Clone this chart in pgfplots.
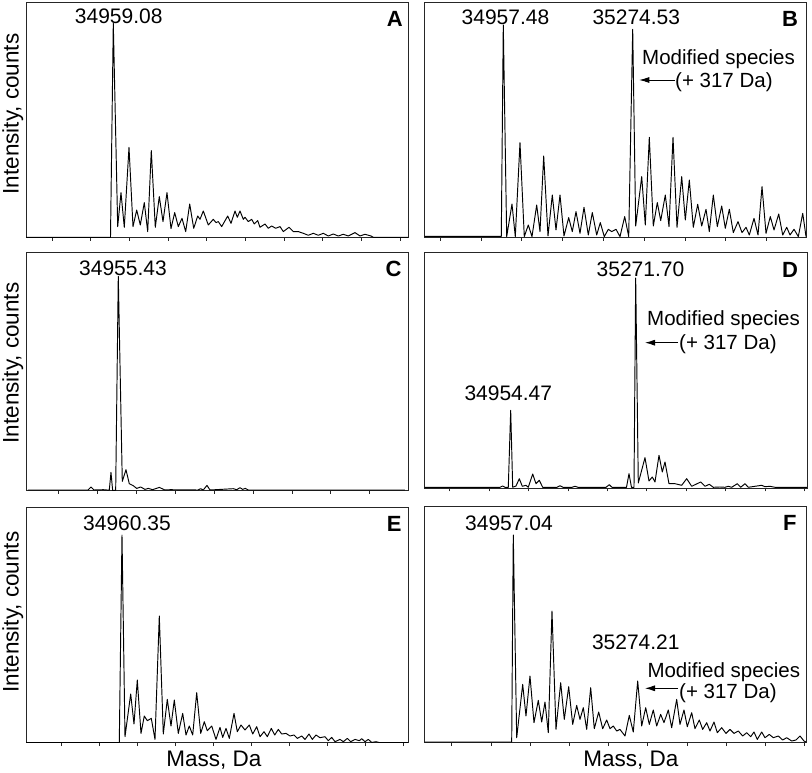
\documentclass[border=0pt]{standalone}
\usepackage{pgfplots}
\pgfplotsset{compat=1.18}
\usepackage{pgfplotstable}
\usetikzlibrary{arrows.meta}
\usepackage{fontspec}
\setmainfont{Liberation Sans}

\pgfplotstableread{
px h
26 0
110.5 0
113.3 214
117.7 10.7
121 44.7
124.3 10
129 90
133 10.7
136.7 27.3
140.3 12.3
144.3 34.7
147.7 5.7
151.3 86.7
155.3 10
159.3 40.7
163 15.7
167 44.7
171 8.7
174.7 24.7
178.3 10.7
182 19
185.7 5.7
189.7 33.3
193.7 9
197.7 21.3
200 18
203.3 26.3
208.3 12.3
213.3 18
216 14.7
218.3 15.7
221.7 10.7
227.7 21.3
231 14
235 26.3
237.3 20
240 26.3
243.3 18
245 20
248.3 15.7
251.7 18
254.3 13.3
257.7 16.7
260 10
265 13.3
268.3 9
271.7 11.3
275.7 9
280 10.7
283.3 5.7
289 10
293.3 5.7
298.3 5.7
303.3 4
308.3 2
313.3 4
318.3 2
323.3 4
328.3 1.3
333.3 3.3
338.3 1.3
343.3 3
348.3 1.3
355 4.7
360 1.3
365 3
371 1.3
373.3 0
408 0
}\dataA

\pgfplotstableread{
px h
424.7 1
501.3 1
503.3 212.3
506.7 0.7
512 33.3
515.3 0.7
520 94.7
524.3 0.7
528.3 12.3
532 0.7
536.7 32.3
540 5.7
543.7 81.3
548 1.3
552.3 42.3
556 7.3
560 42.3
564 1.3
568.7 19.7
572.3 5.7
576 25.7
580 4
584 30
588.3 2.3
592.3 24.7
596.7 2.3
600.3 14.7
604.3 0.7
608.3 8
611.7 5.7
616 8
620 0.7
624.7 20.7
628.7 0.7
632.7 208
635.7 11.3
641.7 60.7
645.3 12.3
649.3 100
653.3 11.3
657.3 34.7
660.7 16.7
665.3 42.3
669 10.7
673 100
677 10
681.7 60.7
685.3 17.3
689.3 57.3
693.3 10
697.7 33
701.7 11.3
706 28
709.3 5.7
713.3 42.3
717.3 10.7
721.7 31.3
725.3 9
729.3 28
733.3 4.7
738 15.7
742 4.7
746 10
749.3 2.3
754 19
758 2.3
762 50.7
766 4
770.3 20.7
774 7.3
778.7 23.3
782.7 2.3
786.7 10
790 2.3
794 8
798.3 0.7
802.7 24
806 0.7
}\dataB

\pgfplotstableread{
px h
28 0.7
88 0.7
91 3.7
94 0.7
103.3 1
109.3 0.5
111 18.3
112.7 0
115.7 0.5
118.3 214.3
122.3 9.3
126 21
129.3 7
133.3 5
136.7 2.3
140.7 3.7
145 1.3
148.3 2.3
152.7 1
159.3 3.3
165 0.7
170 1
198 0.7
200.7 2
203.3 0.7
207 5.3
210 0.7
233.3 2
236.7 1
240 3
242.7 1.3
245.3 2.3
248.3 0.7
405 0.7
}\dataC

\pgfplotstableread{
px h
424.7 0.7
500 0.7
502.7 2
505 0.7
508.3 0.7
510.7 77.7
512.7 0.7
516 2
519.3 9.3
522.3 1.7
526 2.7
528.3 0.7
532.7 14
536 4.3
539.3 7.7
542.7 0.7
557 0.7
560 2.3
563 0.7
572 0.7
575 1.7
578 0.7
606 0.7
609.3 3.3
612 0.7
626.5 0.7
629 14.3
631.5 0.7
634 0.7
635.7 210
638.3 5
645 30.3
649 7
652.3 11
655 6
659 32.7
662.3 16
665 26
669 4.3
675 4.3
681.7 2.7
686.7 9.3
691.7 1.7
700.7 6
705 1.7
709.3 3.7
713.3 0.7
720 1
725 0.7
728.3 1.7
731.7 0.7
737.3 4.3
740.7 0.7
745 4.3
748.3 0.7
755 1.7
761.7 2.7
765 1.3
770 1.7
775 0.7
807 0.7
}\dataD

\pgfplotstableread{
px h
26 0
119.3 0
122 207.7
125 6
130.7 48.7
134 18.7
137.3 62.7
141 9.3
144.3 26.7
147.3 22
151.3 24.3
155 3.3
159.3 126.7
163.3 8.7
167.3 43.3
171 16.7
174.3 42.7
178.3 9.3
182.7 29.3
186 7.7
189.3 16.7
192.7 7.7
196.7 50
200.7 9.3
204.3 21
207.3 12
211.7 16.7
216 3.3
220 15.3
222.7 5.3
226 14.3
229.3 4.3
234 29.3
237.3 11
241 17.7
245 12.7
249.3 17.7
252.7 8.7
256.7 16
260 6
264 11
267.3 6
271.3 14.3
274.7 7.7
278.3 13.3
281.7 8.7
286 9.3
290 6.7
294 7.7
297.3 4.3
301.7 6.7
305 3.3
309 8.7
312.3 3.3
316 7.7
320 5
325 6
328.3 2
331.7 5.3
335 1
340 3.3
343.3 1
347.3 4.3
350.7 1
355 3.3
359.3 2
361.7 4
365 1
368.3 3.3
371.7 0.3
376 1
380 0
408 0
}\dataE

\pgfplotstableread{
px h
424.7 0.7
511.7 0.7
513.3 207.7
516.7 5
522.7 58.3
526 26.7
530 66.7
534 20
538.3 42.3
541.7 20.7
545 40.7
548.3 10
552 131.7
556 13.3
560.7 60
564.3 23.3
568.7 56
572.7 18.3
576.7 37.3
580 23.3
583.3 35
586.7 13.3
590.7 55
594.3 14
598.7 30.7
602.7 14
606.7 22.7
610 14
613.3 16.7
616.7 11.7
620 13.3
625 6.7
629.3 27.3
633.3 10.7
637.7 61.7
641.7 16.7
645.7 35
649.3 18.3
653.3 32.7
656.7 16.7
660.7 28.3
664 20
668.3 32.7
671.7 15
676.7 43.3
680 18.3
684 32.7
687.3 16
691.7 30
695 14
699.3 22.7
702.7 13.3
706.7 20
710 11.7
714 20.7
717.3 10
721.7 15
726 9.3
730 13.3
734 9.3
738.3 11.7
742.7 6.7
746.7 10
750.7 6
754 10.7
757.3 3.3
761.7 10.7
765 5
769.3 8.3
773.3 5
778.3 6.7
782.7 2.7
786.7 5
791.7 1.7
796 2.7
800 6.7
804 1.7
806 0.7
}\dataF

\pgfplotsset{
  panel/.style={
    scale only axis,
    anchor=south west,
    axis line style={line width=0.8pt, black!85},
    ytick=\empty,
    xtick distance=100,
    scaled x ticks=false,
    xticklabels={},
    xtick pos=left,
    tick align=outside,
    major tick length=3.3pt,
    tick style={line width=0.7pt, black!85},
    ymin=0,
  },
  spec/.style={black, line width=0.95pt, line join=round, no markers},
}

\newcommand{\numfont}{\fontsize{21}{25}\selectfont}
\newcommand{\annfont}{\fontsize{20.5}{24}\selectfont}
\newcommand{\letfont}{\fontsize{22}{26}\selectfont\bfseries}
\newcommand{\labfont}{\fontsize{22.5}{27}\selectfont}
\tikzset{annarrow/.style={-{Latex[length=10pt,width=6pt]}, line width=0.8pt}}

\begin{document}
\begin{tikzpicture}
\useasboundingbox (0pt,0pt) rectangle (812pt,772pt);

% Panel A
\begin{axis}[panel, at={(26pt,534.7pt)}, width=382.3pt, height=234.6pt,
  xmin=34733.1, xmax=35720.9, ymax=234.6]
\addplot[spec] table[x expr={34900+(\thisrow{px}-90.6)*100/38.7}, y=h] {\dataA};
\end{axis}

% Panel B
\begin{axis}[panel, at={(424.7pt,534.7pt)}, width=382pt, height=234.6pt,
  xmin=34762.3, xmax=35698.5, ymax=234.6]
\addplot[spec] table[x expr={34900+(\thisrow{px}-480.9)*100/40.8}, y=h] {\dataB};
\end{axis}

% Panel C
\begin{axis}[panel, at={(26pt,281.3pt)}, width=382pt, height=238pt,
  xmin=34716.5, xmax=35698.5, ymax=238]
\addplot[spec] table[x expr={34900+(\thisrow{px}-97.4)*100/38.9}, y=h] {\dataC};
\end{axis}

% Panel D
\begin{axis}[panel, at={(424.7pt,284pt)}, width=382.6pt, height=235.3pt,
  xmin=34736.3, xmax=35707.4, ymax=235.3]
\addplot[spec] table[x expr={34900+(\thisrow{px}-489.2)*100/39.4}, y=h] {\dataD};
\end{axis}

% Panel E
\begin{axis}[panel, at={(26pt,29.3pt)}, width=382pt, height=235.4pt,
  xmin=34706.1, xmax=35712.6, ymax=235.4]
\addplot[spec] table[x expr={34900+(\thisrow{px}-99.6)*100/37.95}, y=h] {\dataE};
\end{axis}

% Panel F
\begin{axis}[panel, at={(424.7pt,29.3pt)}, width=382pt, height=236.7pt,
  xmin=34730.9, xmax=35705.4, ymax=236.7]
\addplot[spec] table[x expr={34900+(\thisrow{px}-491)*100/39.2}, y=h] {\dataF};
\end{axis}

% Peak labels
\node[anchor=base, inner sep=0pt, font=\numfont] at (118.7pt,748pt) {34959.08};
\node[anchor=base, inner sep=0pt, font=\numfont] at (505.5pt,747pt) {34957.48};
\node[anchor=base, inner sep=0pt, font=\numfont] at (636.3pt,747pt) {35274.53};
\node[anchor=base, inner sep=0pt, font=\numfont] at (123pt,496pt) {34955.43};
\node[anchor=base, inner sep=0pt, font=\numfont] at (640.5pt,495.3pt) {35271.70};
\node[anchor=base, inner sep=0pt, font=\numfont] at (508.3pt,371pt) {34954.47};
\node[anchor=base, inner sep=0pt, font=\numfont] at (127pt,241.3pt) {34960.35};
\node[anchor=base, inner sep=0pt, font=\numfont] at (509pt,241.3pt) {34957.04};
\node[anchor=base, inner sep=0pt, font=\numfont] at (635.8pt,122pt) {35274.21};

% Panel letters
\node[anchor=base east, inner sep=0pt, font=\letfont] at (403pt,745.3pt) {A};
\node[anchor=base east, inner sep=0pt, font=\letfont] at (798.3pt,745.3pt) {B};
\node[anchor=base east, inner sep=0pt, font=\letfont] at (401.7pt,495.3pt) {C};
\node[anchor=base east, inner sep=0pt, font=\letfont] at (798.3pt,494.7pt) {D};
\node[anchor=base east, inner sep=0pt, font=\letfont] at (401.7pt,240.3pt) {E};
\node[anchor=base east, inner sep=0pt, font=\letfont] at (796.7pt,241.3pt) {F};

% Modified species annotations
\node[anchor=base west, inner sep=0pt, font=\annfont] at (642pt,707.5pt) {Modified species};
\node[anchor=base west, inner sep=0pt, font=\annfont] at (675pt,684pt) {(+ 317 Da)};
\draw[annarrow] (675pt,692pt) -- (639.3pt,692pt);

\node[anchor=base west, inner sep=0pt, font=\annfont] at (647pt,446pt) {Modified species};
\node[anchor=base west, inner sep=0pt, font=\annfont] at (679pt,422pt) {(+ 317 Da)};
\draw[annarrow] (678pt,429.3pt) -- (645pt,429.3pt);

\node[anchor=base west, inner sep=0pt, font=\annfont] at (647.3pt,94.5pt) {Modified species};
\node[anchor=base west, inner sep=0pt, font=\annfont] at (679pt,73.5pt) {(+ 317 Da)};
\draw[annarrow] (678pt,83.7pt) -- (645pt,83.7pt);

% Axis labels
\node[anchor=base, inner sep=0pt, font=\labfont] at (214pt,6pt) {Mass, Da};
\node[anchor=base, inner sep=0pt, font=\labfont] at (631pt,6pt) {Mass, Da};
\node[anchor=base, inner sep=0pt, rotate=90, font=\labfont] at (18.7pt,658pt) {Intensity, counts};
\node[anchor=base, inner sep=0pt, rotate=90, font=\labfont] at (18.7pt,409pt) {Intensity, counts};
\node[anchor=base, inner sep=0pt, rotate=90, font=\labfont] at (18.7pt,160pt) {Intensity, counts};
\end{tikzpicture}
\end{document}
